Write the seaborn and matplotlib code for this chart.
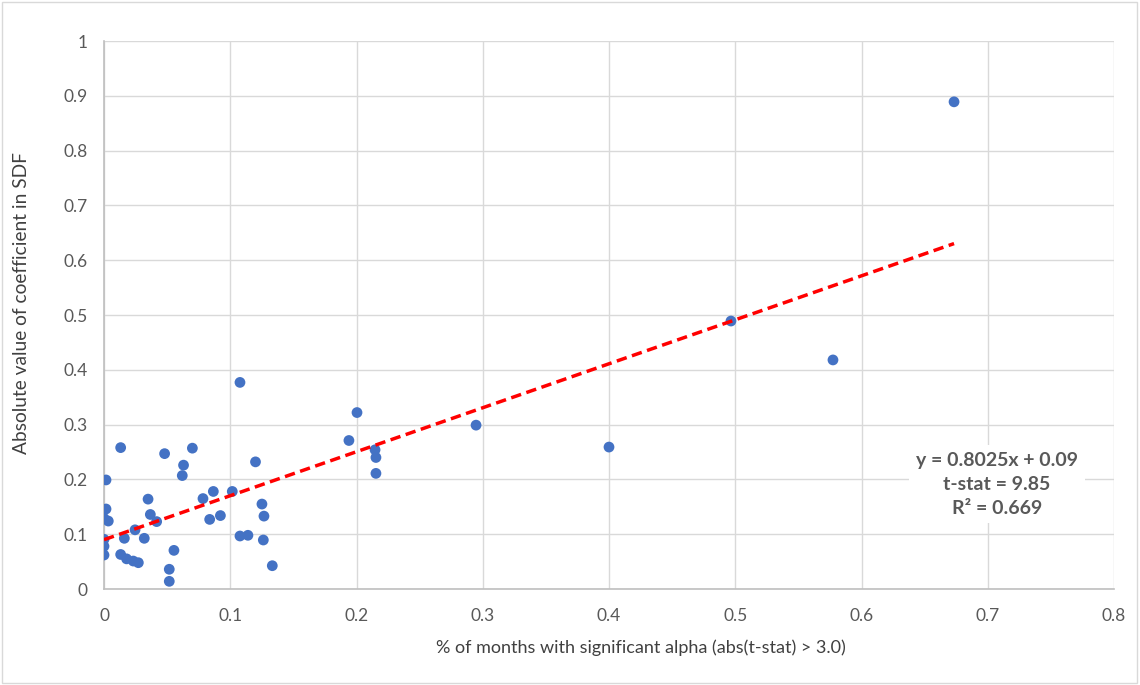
import numpy as np
import pandas as pd
import matplotlib
matplotlib.use("Agg")
import matplotlib.pyplot as plt
import seaborn as sns
from matplotlib.patches import Rectangle

# Share of months with significant alpha vs. |SDF coefficient|
pct_sig_alpha = [
    0.1077, 0.0132, 0.0016, 0.0480, 0.0700, 0.0630, 0.0620, 0.1200,
    0.0016, 0.0000, 0.0034, 0.0349, 0.0367, 0.0417, 0.0246, 0.0161,
    0.0319, 0.0000, 0.0000, 0.0000, 0.0132, 0.0179, 0.0232, 0.0272,
    0.0554, 0.0517, 0.0517, 0.0784, 0.0866, 0.0837, 0.0922, 0.1016,
    0.1077, 0.1140, 0.1251, 0.1267, 0.1262, 0.1333, 0.2004, 0.1940,
    0.2147, 0.2154, 0.2154, 0.2947, 0.4000, 0.4966, 0.5774, 0.6733,
]
abs_sdf_coef = [
    0.377, 0.258, 0.199, 0.247, 0.257, 0.226, 0.207, 0.232,
    0.146, 0.129, 0.124, 0.164, 0.136, 0.123, 0.108, 0.0925,
    0.0925, 0.0907, 0.078, 0.062, 0.063, 0.055, 0.051, 0.048,
    0.0705, 0.036, 0.014, 0.165, 0.178, 0.127, 0.134, 0.178,
    0.0967, 0.098, 0.155, 0.133, 0.0894, 0.0425, 0.322, 0.271,
    0.254, 0.240, 0.211, 0.299, 0.259, 0.489, 0.418, 0.889,
]

# Fitted trend reported in the annotation
slope = 0.8025
intercept = 0.09
t_stat = 9.85
r_squared = 0.669

x_ticks = [0, 0.1, 0.2, 0.3, 0.4, 0.5, 0.6, 0.7, 0.8]
y_ticks = [0, 0.1, 0.2, 0.3, 0.4, 0.5, 0.6, 0.7, 0.8, 0.9, 1]

df = pd.DataFrame({"x": pct_sig_alpha, "y": abs_sdf_coef})

sns.set_theme(style="white")
plt.rcParams["font.family"] = ["Lato", "DejaVu Sans"]

text_grey = "#595959"
grid_grey = "#D9D9D9"

W, H = 1140, 685
fig = plt.figure(figsize=(W / 100, H / 100), dpi=100)
ax = fig.add_axes([104 / W, 1 - 589 / H, (1114 - 104) / W, (589 - 41) / H])

sns.scatterplot(data=df, x="x", y="y", ax=ax, color="#4472C4", s=60,
                edgecolor="none", linewidth=0, zorder=3)

x_line = np.array([min(pct_sig_alpha), max(pct_sig_alpha)])
ax.plot(x_line, slope * x_line + intercept, color="#FF0000", lw=2.5,
        ls=(0, (3, 1.6)), zorder=4)

ax.set_xlim(0, 0.8)
ax.set_ylim(0, 1)
ax.set_xticks(x_ticks)
ax.set_yticks(y_ticks)
ax.set_xticklabels([f"{t:g}" for t in x_ticks])
ax.set_yticklabels([f"{t:g}" for t in y_ticks])
ax.grid(True, color=grid_grey, lw=1, zorder=0)
ax.set_axisbelow(True)
for side in ("top", "right"):
    ax.spines[side].set_visible(False)
for side in ("left", "bottom"):
    ax.spines[side].set_color("#BFBFBF")
    ax.spines[side].set_linewidth(1.2)
ax.tick_params(axis="both", length=0, labelsize=12.5, colors=text_grey, pad=12)
ax.tick_params(axis="x", pad=14)

# Axis titles placed in figure coordinates
ax.set_xlabel("")
ax.set_ylabel("")
fig.text(641 / W, 1 - 648 / H,
         "% of months with significant alpha (abs(t-stat) > 3.0)",
         ha="center", va="center", fontsize=13, color="#404040")
fig.text(22 / W, 1 - 303 / H, "Absolute value of coefficient in SDF",
         ha="center", va="center", rotation=90, fontsize=13.8, color="#404040")

ax.text(0.7073, 0.1916,
        f"y = {slope}x + {intercept}\nt-stat = {t_stat}\nR² = {r_squared}",
        ha="center", va="center", fontsize=14, fontweight="bold",
        color=text_grey, linespacing=1.5, zorder=5,
        bbox=dict(boxstyle="square,pad=0.35", fc="white", ec="none"))

# Chart-area border
fig.patches.append(Rectangle((0.002, 0.003), 0.995, 0.994, transform=fig.transFigure,
                             fill=False, ec=grid_grey, lw=1))

fig.savefig("out.png", dpi=100)
